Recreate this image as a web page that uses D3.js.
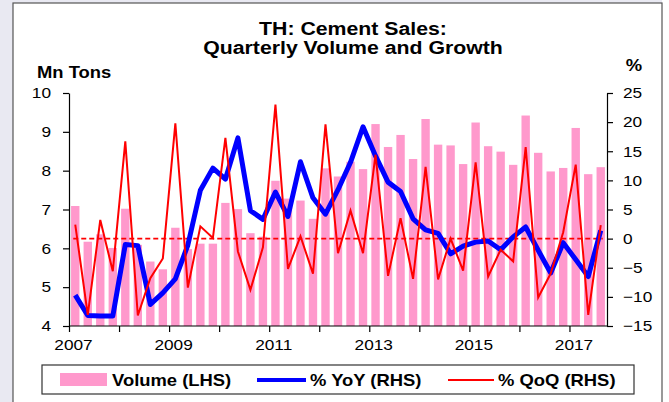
<!DOCTYPE html>
<html>
<head>
<meta charset="utf-8">
<script src="https://cdn.jsdelivr.net/npm/d3@7"></script>
<style>
  html, body { margin: 0; padding: 0; background: #ffffff; }
  svg { display: block; font-family: 'Liberation Sans', Arial, sans-serif; }
</style>
</head>
<body>
<svg id="chart" width="669" height="402"></svg>
<script>
'use strict';

// Quarterly data, 2007Q1 .. 2017Q3
const startYear = 2007;
const volume = [7.09, 6.17, 6.36, 6.01, 7.02, 6.09, 5.66, 5.46, 6.53, 5.98, 6.12, 6.12,
    7.17, 7.01, 6.39, 6.30, 7.74, 7.28, 7.23, 6.76, 8.06, 7.85, 8.23, 8.04,
    9.20, 8.61, 8.92, 8.30, 9.33, 8.67, 8.65, 8.17, 9.24, 8.63, 8.49, 8.15,
    9.42, 8.46, 7.98, 8.07, 9.10, 7.91, 8.09];
const yoy = [-9.7, -13.2, -13.3, -13.3, -1.0, -1.2, -11.3, -9.3, -6.9, -1.1, 8.3, 12.1,
    10.2, 17.3, 4.8, 3.3, 8.0, 3.8, 13.2, 7.0, 4.2, 8.4, 13.1, 19.2,
    14.2, 9.7, 8.1, 3.4, 1.5, 0.9, -2.6, -1.3, -0.6, -0.4, -1.9, 0.3,
    2.0, -2.0, -5.9, -0.7, -3.6, -6.5, 1.4];
const qoq = [2.4, -13.1, 3.2, -5.6, 16.7, -13.2, -6.8, -3.4, 19.8, -8.4, 2.1, 0.1,
    17.3, -2.2, -8.8, -1.5, 23.0, -5.2, 0.4, -6.0, 19.6, -2.5, 4.8, -2.5,
    14.4, -6.4, 3.5, -6.9, 12.3, -7.0, 0.0, -5.5, 13.1, -6.5, -1.9, -3.9,
    15.7, -10.1, -6.0, 1.1, 12.7, -13.1, 2.3];
const leftTicks = [4, 5, 6, 7, 8, 9, 10];
const rightTicks = [-15, -10, -5, 0, 5, 10, 15, 20, 25];
const yearTicks = d3.range(2007, 2018);
const legendItems = ['Volume (LHS)', '% YoY (RHS)', '% QoQ (RHS)'];

const PINK = '#ff99cc';
const BLUE = '#0000ff';
const RED = '#ff0000';
const STRETCH = 1.15;

const svg = d3.select('#chart');
const plot = { left: 69, right: 607, top: 93, bottom: 326 };

// backdrop + frame
svg.append('rect').attr('width', 669).attr('height', 402).attr('fill', '#e9e9f2');
svg.append('rect').attr('x', 662).attr('width', 7).attr('height', 402).attr('fill', '#fff');
svg.append('rect')
    .attr('x', 13).attr('y', 3).attr('width', 649).attr('height', 400)
    .attr('fill', '#fff').attr('stroke', '#555').attr('stroke-width', 1.2);

function label(x, y, txt, size, weight, anchor) {
    return svg.append('text')
        .attr('transform', `translate(${x},${y}) scale(${STRETCH},1)`)
        .attr('text-anchor', anchor || 'start')
        .attr('font-size', size)
        .attr('font-weight', weight || 'normal')
        .attr('fill', '#000')
        .text(txt);
}

label(353, 35, 'TH: Cement Sales:', 18.5, 'bold', 'middle');
label(353, 54, 'Quarterly Volume and Growth', 18.5, 'bold', 'middle');
label(37, 78, 'Mn Tons', 16, 'bold');
label(634, 71, '%', 16, 'bold', 'middle');

// scales
const x = d3.scaleBand()
    .domain(d3.range(volume.length))
    .range([plot.left, plot.right])
    .paddingInner(0.33)
    .paddingOuter(0.165);
const xYear = d3.scaleLinear()
    .domain([startYear, startYear + volume.length / 4])
    .range([plot.left, plot.right]);
const yL = d3.scaleLinear().domain([4, 10]).range([plot.bottom, plot.top]);
const yR = d3.scaleLinear().domain([-15, 25]).range([plot.bottom, plot.top]);
const cx = i => x(i) + x.bandwidth() / 2;

// bars
svg.append('g')
    .selectAll('rect')
    .data(volume)
    .enter().append('rect')
    .attr('x', (d, i) => x(i))
    .attr('y', d => yL(d))
    .attr('width', x.bandwidth())
    .attr('height', d => yL(4) - yL(d))
    .attr('fill', PINK);

// zero line
svg.append('line')
    .attr('x1', cx(0) - 2).attr('x2', cx(volume.length - 1) + 2)
    .attr('y1', yR(0)).attr('y2', yR(0))
    .attr('stroke', RED).attr('stroke-width', 1.6)
    .attr('stroke-dasharray', '5,3');

const line = d3.line().x((d, i) => cx(i)).y(d => yR(d));

svg.append('path')
    .datum(yoy)
    .attr('d', line)
    .attr('fill', 'none')
    .attr('stroke', BLUE)
    .attr('stroke-width', 5)
    .attr('stroke-linejoin', 'round');

svg.append('path')
    .datum(qoq)
    .attr('d', line)
    .attr('fill', 'none')
    .attr('stroke', RED)
    .attr('stroke-width', 2)
    .attr('stroke-linejoin', 'miter');

// axes
function styleAxis(g) {
    g.selectAll('path, line').attr('stroke', '#000').attr('stroke-width', 1.2);
    g.selectAll('text').attr('font-size', 15).attr('fill', '#000')
        .attr('font-family', "'Liberation Sans', Arial, sans-serif");
}

const gL = svg.append('g')
    .attr('transform', `translate(${plot.left},0)`)
    .call(d3.axisLeft(yL).tickValues(leftTicks).tickFormat(d3.format('d'))
        .tickSize(6).tickSizeOuter(0).tickPadding(12));
styleAxis(gL);
gL.selectAll('text').attr('x', null).attr('transform', `translate(-18,0) scale(${STRETCH},1)`);

const gR = svg.append('g')
    .attr('transform', `translate(${plot.right},0)`)
    .call(d3.axisRight(yR).tickValues(rightTicks).tickFormat(d3.format('d'))
        .tickSize(6).tickSizeOuter(0));
styleAxis(gR);
gR.selectAll('text').attr('x', null).attr('transform', `translate(16,0) scale(${STRETCH},1)`);

const gB = svg.append('g')
    .attr('transform', `translate(0,${plot.bottom})`)
    .call(d3.axisBottom(xYear).tickValues(yearTicks).tickSize(6).tickSizeOuter(0)
        .tickFormat(d => (d % 2 ? d : '')));
styleAxis(gB);
gB.select('.domain').attr('d', `M${plot.left},0H${plot.right}`);
gB.selectAll('text').attr('y', null).attr('dy', null)
    .attr('transform', `translate(4,24) scale(${STRETCH},1)`);

// legend
svg.append('rect')
    .attr('x', 42).attr('y', 365).attr('width', 592).attr('height', 29)
    .attr('fill', '#fff').attr('stroke', '#333').attr('stroke-width', 1.2);
svg.append('rect').attr('x', 60).attr('y', 373).attr('width', 47).attr('height', 13).attr('fill', PINK);
label(112, 386, legendItems[0], 16, 'bold');
svg.append('line').attr('x1', 257).attr('x2', 306).attr('y1', 380).attr('y2', 380)
    .attr('stroke', BLUE).attr('stroke-width', 4);
label(310, 386, legendItems[1], 16, 'bold');
svg.append('line').attr('x1', 448).attr('x2', 494).attr('y1', 380).attr('y2', 380)
    .attr('stroke', RED).attr('stroke-width', 2);
label(498, 386, legendItems[2], 16, 'bold');
</script>
</body>
</html>
